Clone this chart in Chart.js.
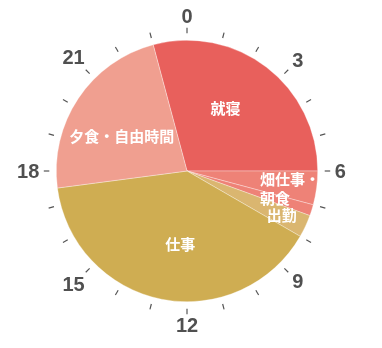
<!DOCTYPE html>
<html>
<head>
<meta charset="utf-8">
<script src="https://cdn.jsdelivr.net/npm/chart.js@4"></script>
<style>
  html, body { margin: 0; padding: 0; background: #ffffff; }
  #wrap { width: 382px; height: 348px; }
</style>
</head>
<body>
<div id="wrap"><canvas id="c" width="382" height="348"></canvas></div>
<script>
// Daily schedule as a 24-hour clock (slices run clockwise from startHour)
const categories = ['就寝', '畑仕事', '朝食', '出勤', '仕事', '夕食・自由時間'];
const hours = [7, 1, 0.33, 0.67, 9.5, 5.5];
// text drawn on slices; null = shares the label of the previous slice
const sliceLabels = [['就寝'], ['畑仕事・', '朝食'], null, ['出勤'], ['仕事'], ['夕食・自由時間']];
const sliceColors = ['#e8605c', '#ee8277', '#ee8277', '#dab670', '#cfad52', '#f09f90'];
const startHour = 23;
const hourTickLabels = ['0', '3', '6', '9', '12', '15', '18', '21'];
const hourTickValues = [0, 3, 6, 9, 12, 15, 18, 21];

const clockPlugin = {
  id: 'clockFace',
  afterDatasetsDraw(chart) {
    const ctx = chart.ctx;
    const meta = chart.getDatasetMeta(0);
    const arcs = meta.data;
    if (!arcs.length) return;
    const p0 = arcs[0].getProps(['x', 'y', 'outerRadius'], true);
    const cx = p0.x, cy = p0.y, R = p0.outerRadius;
    const angOf = h => (h / 24) * Math.PI * 2 - Math.PI / 2;

    // hour ticks
    ctx.save();
    ctx.strokeStyle = '#555555';
    ctx.lineWidth = 1.2;
    for (let h = 0; h < 24; h++) {
      const a = angOf(h);
      ctx.beginPath();
      ctx.moveTo(cx + Math.cos(a) * (R + 7), cy + Math.sin(a) * (R + 7));
      ctx.lineTo(cx + Math.cos(a) * (R + 12.5), cy + Math.sin(a) * (R + 12.5));
      ctx.stroke();
    }
    // hour labels
    ctx.fillStyle = '#505050';
    ctx.font = 'bold 20px "Liberation Sans", Arial, sans-serif';
    ctx.textAlign = 'center';
    ctx.textBaseline = 'middle';
    hourTickValues.forEach((h, i) => {
      const a = angOf(h);
      const txt = hourTickLabels[i];
      const w = ctx.measureText(txt).width;
      const hh = 14;
      const d = R + 17 + Math.abs(Math.cos(a)) * w / 2 + Math.abs(Math.sin(a)) * hh / 2;
      ctx.fillText(txt, cx + Math.cos(a) * d, cy + Math.sin(a) * d + 1);
    });

    // slice labels (merged groups)
    ctx.fillStyle = '#ffffff';
    ctx.font = 'bold 15px "Noto Sans CJK JP", sans-serif';
    ctx.textBaseline = 'middle';
    for (let i = 0; i < arcs.length; i++) {
      const lines = sliceLabels[i];
      if (!lines) continue;
      let j = i;
      while (j + 1 < arcs.length && sliceLabels[j + 1] === null) j++;
      const s = arcs[i].getProps(['startAngle'], true).startAngle;
      const e = arcs[j].getProps(['endAngle'], true).endAngle;
      const span = e - s;
      const big = span > Math.PI / 6;
      const mid = (s + e) / 2 + (big ? -6 * Math.PI / 180 : 0);
      const r = R * (big ? 0.565 : 0.8);
      const x = cx + Math.cos(mid) * r;
      const y = cy + Math.sin(mid) * r;
      const lh = 19;
      const widths = lines.map(t => ctx.measureText(t).width);
      const bw = Math.max(...widths);
      ctx.textAlign = 'left';
      lines.forEach((t, k) => {
        const ly = y + (k - (lines.length - 1) / 2) * lh;
        ctx.fillText(t, x - bw / 2, ly);
      });
    }
    ctx.restore();
  }
};

new Chart(document.getElementById('c'), {
  type: 'pie',
  data: {
    labels: categories,
    datasets: [{
      data: hours,
      backgroundColor: sliceColors,
      borderColor: 'rgba(255,255,255,0.55)',
      borderWidth: 0.6
    }]
  },
  options: {
    responsive: false,
    animation: false,
    rotation: startHour * 15,
    layout: { padding: { top: 40, bottom: 46, left: 56, right: 64 } },
    plugins: {
      legend: { display: false },
      tooltip: { enabled: false }
    }
  },
  plugins: [clockPlugin]
});
</script>
</body>
</html>
